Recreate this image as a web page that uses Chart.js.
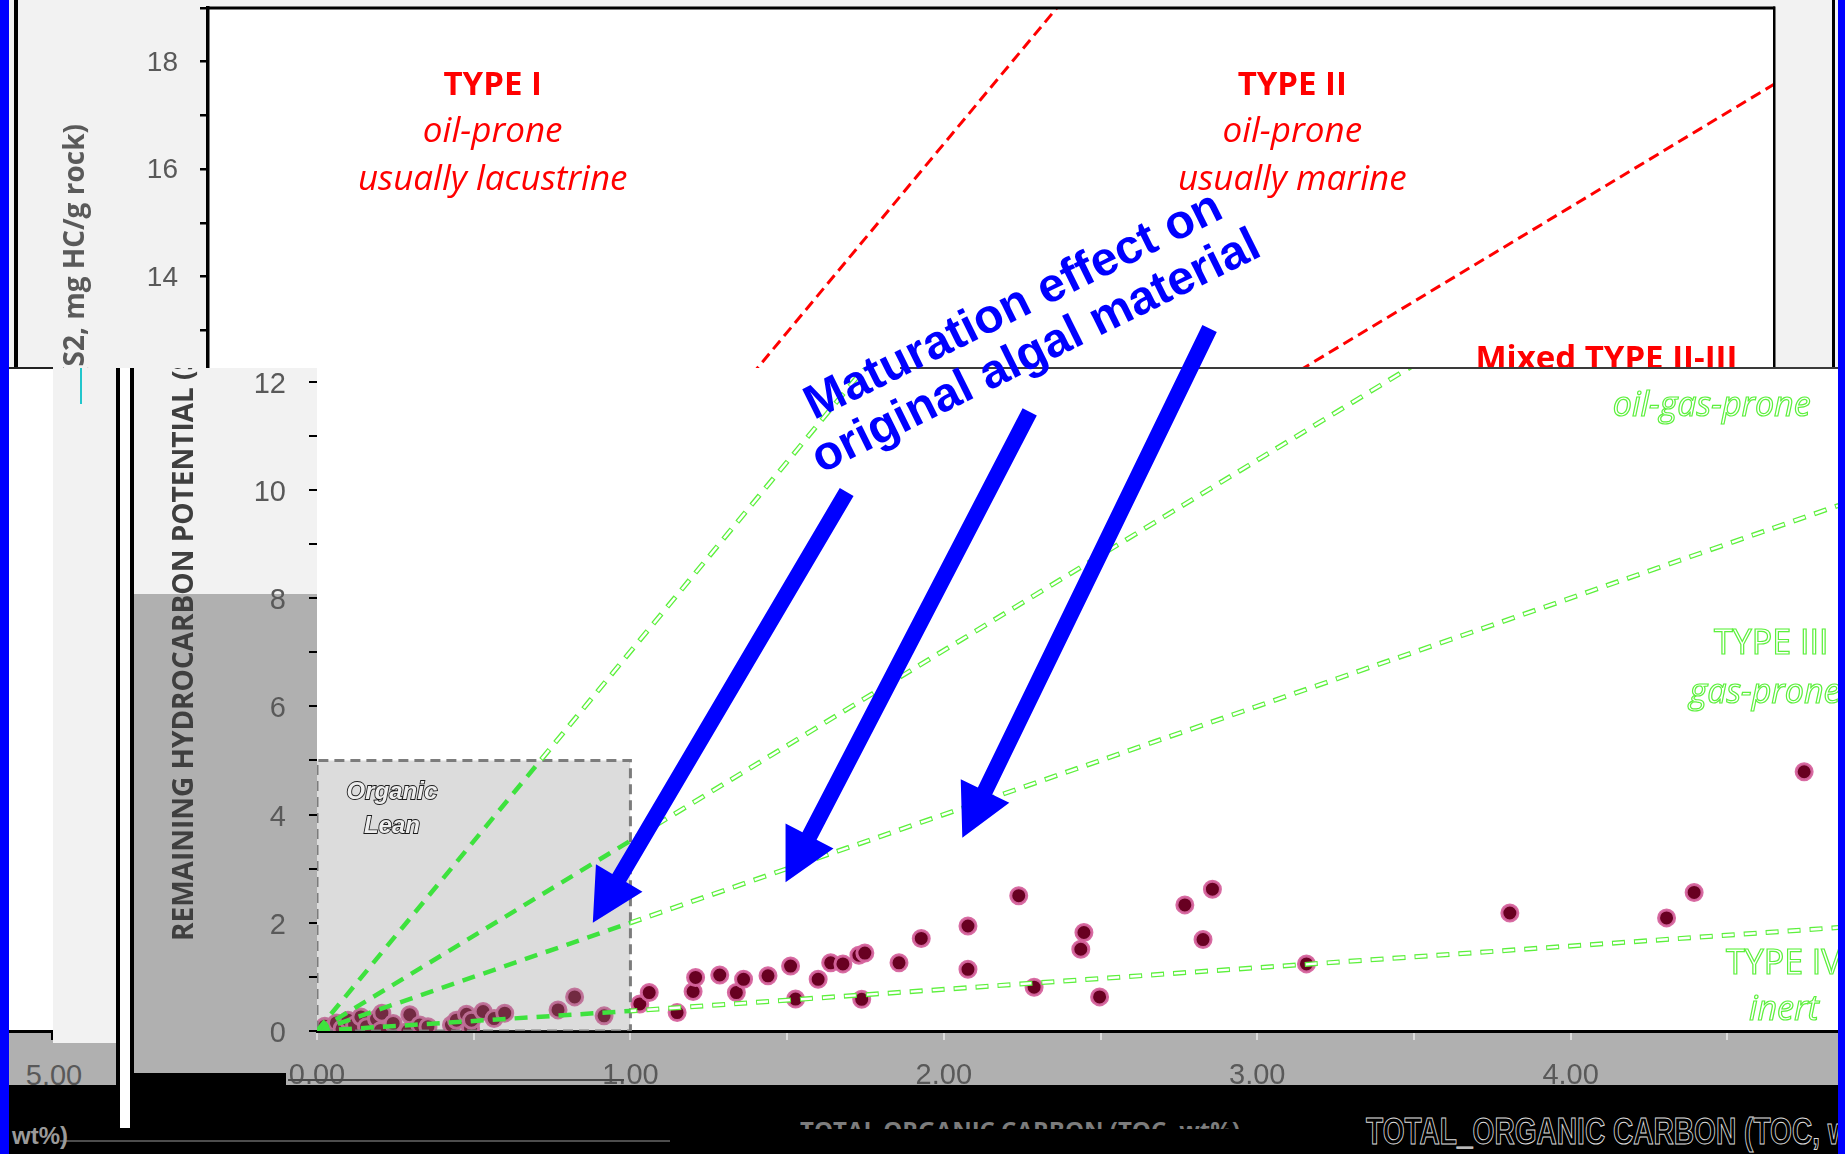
<!DOCTYPE html>
<html>
<head>
<meta charset="utf-8">
<title>Remaining hydrocarbon potential vs TOC</title>
<script src="https://cdn.jsdelivr.net/npm/chart.js@4.4.1/dist/chart.umd.min.js"></script>
<style>
  html, body { margin: 0; padding: 0; }
  body { width: 1845px; height: 1154px; position: relative; overflow: hidden; background: #f2f2f2; }
  .abs { position: absolute; }
  canvas { display: block; }
</style>
</head>
<body>
<canvas id="chartA" class="abs" width="1829" height="368" style="left:9px;top:0;"></canvas>

<div class="abs" style="left:9px;top:368px;width:44px;height:664px;background:#fff;"></div>
<div class="abs" style="left:9px;top:1032px;width:107px;height:53px;background:#b0b0b0;"></div>
<div class="abs" style="left:53px;top:368px;width:63px;height:675px;background:#f2f2f2;"></div>
<div class="abs" style="left:9px;top:1030px;width:44px;height:3px;background:#000;"></div>
<div class="abs" style="left:51px;top:1030px;width:2px;height:10px;background:#000;"></div>
<div class="abs" style="left:9px;top:367px;width:44px;height:2px;background:#222;"></div>
<div class="abs" style="left:80px;top:368px;width:2px;height:36px;background:#22c6cc;"></div>
<div class="abs" style="left:14px;top:1058px;width:80px;text-align:center;font:29px 'Liberation Sans',Arial,sans-serif;color:#595959;line-height:34px;">5.00</div>

<canvas id="chartB" class="abs" width="1704" height="717" style="left:134px;top:368px;"></canvas>
<div class="abs" style="left:900px;top:367px;width:938px;height:2px;background:#3a3a3a;"></div>

<!-- bottom band with the x-axis title -->
<div class="abs" style="left:9px;top:1085px;width:1829px;height:69px;background:#000;"></div>
<div class="abs" style="left:134px;top:1073px;width:152px;height:12px;background:#000;"></div>
<div class="abs" style="left:288px;top:1079px;width:336px;height:2px;background:#4a4a4a;"></div>
<div class="abs" style="left:60px;top:1140px;width:610px;height:2px;background:#4d4d4d;"></div>
<div class="abs" style="left:12px;top:1122px;font:bold 24px 'Liberation Sans',Arial,sans-serif;color:#9a9a9a;white-space:nowrap;">wt%)</div>
<div class="abs" style="left:800px;top:1117px;width:460px;height:12px;overflow:hidden;">
  <div style="font:bold 24px 'Open Sans',sans-serif;color:#7c7c7c;white-space:nowrap;line-height:26px;">TOTAL ORGANIC CARBON (TOC, wt%)</div>
</div>
<div class="abs" style="left:1366px;top:1112px;white-space:nowrap;font:bold 36px 'Liberation Sans',Arial,sans-serif;color:#000;-webkit-text-stroke:1px #dcdcdc;transform:scaleX(0.78);transform-origin:left top;line-height:40px;">TOTAL_ORGANIC CARBON (TOC, wt%)</div>

<!-- double frame line -->
<div class="abs" style="left:116px;top:368px;width:10px;height:760px;background:#fff;border-left:4px solid #000;border-right:4px solid #000;"></div>

<canvas id="notes" class="abs" width="1845" height="1154" style="left:0;top:0;pointer-events:none;"></canvas>

<div class="abs" style="left:0;top:0;width:9px;height:1154px;background:#0000ff;"></div>
<div class="abs" style="left:1838px;top:0;width:7px;height:1154px;background:#0000ff;"></div>

<script>
// ---- Rock-Eval samples ----
const tocWt = [
  0.01, 0.025, 0.05, 0.062, 0.08, 0.099, 0.12, 0.14, 0.158, 0.19, 0.203, 0.207, 0.243, 0.29,
  0.296, 0.328, 0.354, 0.429, 0.445, 0.477, 0.49, 0.493, 0.53, 0.565, 0.599, 0.769, 0.822, 0.916,
  1.03, 1.06, 1.149, 1.20, 1.208, 1.285, 1.338, 1.361, 1.439, 1.511, 1.527, 1.599, 1.639, 1.678,
  1.729, 1.748, 1.738, 1.857, 1.928, 2.077, 2.077, 2.239, 2.288, 2.437, 2.447, 2.497, 2.769, 2.827,
  2.857, 3.157, 3.806, 4.306, 4.394, 4.745
];
const s2Yield = [
  0.02, 0.09, 0.05, 0.15, 0.04, 0.20, 0.11, 0.26, 0.08, 0.22, 0.01, 0.33, 0.14, 0.0,
  0.30, 0.11, 0.08, 0.11, 0.20, 0.31, 0.05, 0.20, 0.36, 0.23, 0.33, 0.39, 0.63, 0.28,
  0.50, 0.71, 0.34, 0.73, 0.99, 1.035, 0.71, 0.955, 1.02, 1.20, 0.59, 0.955, 1.26, 1.24,
  1.40, 1.44, 0.585, 1.26, 1.71, 1.94, 1.14, 2.50, 0.81, 1.51, 1.82, 0.63, 2.33, 1.69,
  2.62, 1.24, 2.18, 2.09, 2.56, 4.79
];

// ---- kerogen type boundaries (TOC, S2 end points) ----
const typeI_II_toc = [0, 2.71];     const typeI_II_s2 = [0, 19];
const typeII_III_toc = [0, 5];      const typeII_III_s2 = [0, 17.58];
const typeIII_toc = [0, 5];         const typeIII_s2 = [0, 10];
const typeIV_toc = [0, 1, 5];       const typeIV_s2 = [0, 0.37, 1.97];

// organic-lean field
const leanTOC = [0, 1];
const leanS2 = [0, 5];

// axis labels
const upperYLabels = [14, 16, 18];
const lowerYLabels = [0, 2, 4, 6, 8, 10, 12];
const xLabels = [0, 1, 2, 3, 4];

// field labels, upper panel
const upperText = ['TYPE I', 'oil-prone', 'usually lacustrine', 'TYPE II', 'oil-prone', 'usually marine', 'Mixed TYPE II-III'];
const upperTextTOC = [0.909, 0.909, 0.909, 3.462, 3.462, 3.462, 4.465];
const upperTextS2 = [17.38, 16.50, 15.61, 17.38, 16.50, 15.61, 12.28];

// field labels, lower panel
const lowerText = ['oil-gas-prone', 'TYPE III', 'gas-prone', 'TYPE IV', 'inert'];
const lowerTextTOC = [4.45, 4.64, 4.62, 4.68, 4.68];
const lowerTextS2 = [11.55, 7.15, 6.24, 1.23, 0.38];

// maturation arrows (tail -> head) and caption
const arrowTailTOC = [1.690, 2.274, 2.848];
const arrowTailS2 = [9.96, 11.44, 12.98];
const arrowHeadTOC = [0.880, 1.495, 2.059];
const arrowHeadS2 = [2.00, 2.75, 3.57];
const captionLines = ['Maturation effect on', 'original algal material'];
const captionTOC = 2.278, captionS2 = 12.74;

const pts = (xs, ys) => xs.map((x, i) => ({ x, y: ys[i] }));
const TITLE = 'REMAINING HYDROCARBON POTENTIAL (S2, mg HC/g rock)';

// ================= upper panel =================
const panelA = {
  id: 'panelA',
  beforeDraw(chart) {
    const { ctx, chartArea: a, width, height } = chart;
    ctx.save();
    ctx.fillStyle = '#f2f2f2'; ctx.fillRect(0, 0, width, height);
    ctx.fillStyle = '#ffffff'; ctx.fillRect(a.left, a.top, a.width, a.height);
    ctx.fillStyle = '#000';
    ctx.fillRect(5, 0, 4, height);
    ctx.fillRect(1823, 0, 3, height);
    ctx.restore();
  },
  afterDatasetsDraw(chart) {
    const { ctx, scales: { x, y } } = chart;
    ctx.save();
    ctx.fillStyle = '#ff0000';
    ctx.textAlign = 'center';
    ctx.textBaseline = 'alphabetic';
    upperText.forEach((t, i) => {
      const bold = /TYPE/.test(t);
      ctx.font = bold ? 'bold 33px "Open Sans", sans-serif' : 'italic 35px "Open Sans", sans-serif';
      ctx.fillText(t, x.getPixelForValue(upperTextTOC[i]), y.getPixelForValue(upperTextS2[i]));
    });
    // y-axis title (its lower part sits under the lower panel)
    ctx.translate(67, 124);
    ctx.rotate(-Math.PI / 2);
    ctx.textAlign = 'right';
    ctx.textBaseline = 'middle';
    ctx.font = 'bold 28px "Open Sans", sans-serif';
    ctx.fillStyle = '#5a5a5a';
    ctx.fillText(TITLE, 0, 0);
    ctx.restore();
  },
  afterDraw(chart) {
    const { ctx, chartArea: a } = chart;
    ctx.save();
    ctx.fillStyle = '#000';
    ctx.fillRect(a.left - 1.5, a.top - 1.5, a.width + 2.5, 3);
    ctx.fillRect(a.right - 1, a.top - 1.5, 2.5, a.height + 2);
    ctx.restore();
  }
};

const chartA = new Chart(document.getElementById('chartA'), {
  type: 'scatter',
  data: {
    datasets: [
      { type: 'line', data: pts(typeI_II_toc, typeI_II_s2), borderColor: '#ff0000', borderWidth: 3, borderDash: [11, 6], pointRadius: 0, fill: false },
      { type: 'line', data: pts(typeII_III_toc, typeII_III_s2), borderColor: '#ff0000', borderWidth: 3, borderDash: [11, 6], pointRadius: 0, fill: false }
    ]
  },
  options: {
    responsive: false, animation: false, events: [],
    layout: { autoPadding: false, padding: { top: 8, right: 64, bottom: 0, left: 0 } },
    plugins: { legend: { display: false }, tooltip: { enabled: false } },
    scales: {
      x: { type: 'linear', min: 0, max: 5, display: false },
      y: {
        type: 'linear', min: 12.3, max: 19,
        afterFit: s => { s.width = 199; s.paddingTop = 0; s.paddingBottom = 0; },
        ticks: {
          stepSize: 1, includeBounds: false, padding: 22, labelOffset: 1.5, color: '#595959',
          font: { family: '"Liberation Sans", Arial, sans-serif', size: 28 },
          callback: v => upperYLabels.includes(v) ? String(v) : ''
        },
        grid: { drawOnChartArea: false, drawTicks: true, tickLength: 8, color: '#000', lineWidth: 2.5 },
        border: { display: true, color: '#000', width: 3.5 }
      }
    }
  },
  plugins: [panelA]
});

// ================= lower panel =================
function leanBoxPx(chart) {
  const { x, y } = chart.scales;
  const l = x.getPixelForValue(leanTOC[0]), r = x.getPixelForValue(leanTOC[1]);
  const t = y.getPixelForValue(leanS2[1]), b = y.getPixelForValue(leanS2[0]);
  return { l, r, t, b };
}

const panelB = {
  id: 'panelB',
  beforeDraw(chart) {
    const { ctx, chartArea: a, width, height } = chart;
    ctx.save();
    ctx.fillStyle = '#b0b0b0'; ctx.fillRect(0, 0, width, height);
    ctx.fillStyle = '#f2f2f2'; ctx.fillRect(0, 0, a.left, 226);
    ctx.fillStyle = '#ffffff'; ctx.fillRect(a.left, a.top, a.width, a.height);
    ctx.restore();
  },
  beforeDatasetDraw(chart, args) {
    const ds = chart.data.datasets[args.index];
    if (!ds.region) return;
    const { ctx, chartArea: a } = chart;
    const bx = leanBoxPx(chart);
    ctx.save();
    ctx.beginPath();
    if (ds.region === 'inside') {
      ctx.rect(bx.l - 4, bx.t, bx.r - bx.l + 4, bx.b - bx.t + 4);
      ctx.clip();
    } else {
      ctx.rect(a.left, a.top, a.width, a.height);
      ctx.rect(bx.l, bx.t, bx.r - bx.l, bx.b - bx.t);
      ctx.clip('evenodd');
    }
  },
  afterDatasetDraw(chart, args) {
    if (chart.data.datasets[args.index].region) chart.ctx.restore();
  },
  afterDatasetsDraw(chart) {
    const { ctx, scales: { x, y } } = chart;
    ctx.save();
    // organic lean caption
    ctx.textAlign = 'center';
    ctx.textBaseline = 'middle';
    ctx.font = 'italic bold 24px "Liberation Sans", Arial, sans-serif';
    ctx.lineWidth = 1.8;
    ctx.strokeStyle = '#1c1c1c';
    ctx.fillStyle = '#eeeeee';
    [['Organic', 4.40], ['Lean', 3.79]].forEach(([t, s2]) => {
      const px = x.getPixelForValue(0.239), py = y.getPixelForValue(s2);
      ctx.strokeText(t, px, py);
      ctx.fillText(t, px, py);
    });
    // outlined field labels
    ctx.lineWidth = 1.2;
    ctx.strokeStyle = '#5cf03c';
    lowerText.forEach((t, i) => {
      ctx.font = /TYPE/.test(t) ? '34px "Open Sans", sans-serif' : 'italic 34px "Open Sans", sans-serif';
      ctx.strokeText(t, x.getPixelForValue(lowerTextTOC[i]), y.getPixelForValue(lowerTextS2[i]));
    });
    // y-axis title
    ctx.translate(51, 573);
    ctx.rotate(-Math.PI / 2);
    ctx.textAlign = 'left';
    ctx.font = 'bold 28px "Open Sans", sans-serif';
    ctx.fillStyle = '#3f3f3f';
    ctx.fillText(TITLE, 0, 0);
    ctx.restore();
  }
};

const boundaries = [
  [typeI_II_toc, typeI_II_s2],
  [typeII_III_toc, typeII_III_s2],
  [typeIII_toc, typeIII_s2],
  [typeIV_toc, typeIV_s2]
];

const lowerSets = [
  {
    type: 'scatter', data: pts(tocWt, s2Yield), order: 5,
    pointRadius: 8, pointBorderWidth: 3,
    pointBackgroundColor: '#680021', pointBorderColor: 'rgba(214,100,158,0.95)'
  },
  {
    type: 'line', order: 4, pointRadius: 0, borderWidth: 0, fill: 'origin',
    backgroundColor: 'rgba(140,140,140,0.30)',
    data: pts(leanTOC, [leanS2[1], leanS2[1]])
  },
  {
    type: 'line', order: 3, pointRadius: 0, fill: false,
    borderColor: '#7c7c7c', borderWidth: 3, borderDash: [10, 6],
    data: pts([leanTOC[0], leanTOC[0], leanTOC[1], leanTOC[1], leanTOC[0]],
              [leanS2[0], leanS2[1], leanS2[1], leanS2[0], leanS2[0]])
  }
];
boundaries.forEach(([xs, ys]) => {
  lowerSets.push({ type: 'line', data: pts(xs, ys), region: 'outside', order: 2, pointRadius: 0, fill: false,
    borderColor: '#5cf03c', borderWidth: 5, borderDash: [13, 9], borderCapStyle: 'butt' });
  lowerSets.push({ type: 'line', data: pts(xs, ys), region: 'outside', order: 1, pointRadius: 0, fill: false,
    borderColor: '#ffffff', borderWidth: 2.4, borderDash: [11, 11], borderDashOffset: -1, borderCapStyle: 'butt' });
  lowerSets.push({ type: 'line', data: pts(xs, ys), region: 'inside', order: 0, pointRadius: 0, fill: false,
    borderColor: '#3ee23e', borderWidth: 4.5, borderDash: [13, 9], borderCapStyle: 'butt' });
});

const chartB = new Chart(document.getElementById('chartB'), {
  type: 'scatter',
  data: { datasets: lowerSets },
  options: {
    responsive: false, animation: false, events: [],
    layout: { autoPadding: false, padding: 0 },
    plugins: { legend: { display: false }, tooltip: { enabled: false } },
    scales: {
      x: {
        type: 'linear', min: 0, max: 4.853,
        afterFit: s => { s.height = 54; s.paddingLeft = 0; s.paddingRight = 0; s.paddingTop = 0; s.paddingBottom = 0; },
        ticks: {
          stepSize: 0.5, includeBounds: false, padding: 19, maxRotation: 0, autoSkip: false, color: '#595959',
          font: { family: '"Liberation Sans", Arial, sans-serif', size: 29 },
          callback: v => xLabels.includes(v) ? v.toFixed(2) : ''
        },
        grid: { drawOnChartArea: false, drawTicks: true, tickLength: 9, color: '#dadada', lineWidth: 2 },
        border: { display: true, color: '#000', width: 3 }
      },
      y: {
        type: 'linear', min: 0, max: 12.25,
        afterFit: s => { s.width = 183; s.paddingTop = 0; s.paddingBottom = 0; },
        ticks: {
          stepSize: 1, includeBounds: false, padding: 23, labelOffset: 3, autoSkip: false, color: '#595959',
          font: { family: '"Liberation Sans", Arial, sans-serif', size: 29 },
          callback: v => lowerYLabels.includes(v) ? String(v) : ''
        },
        grid: { drawOnChartArea: false, drawTicks: true, tickLength: 8, color: '#000', lineWidth: 2 },
        border: { display: false }
      }
    }
  },
  plugins: [panelB]
});

// ================= arrows and caption =================
(function drawNotes() {
  const cv = document.getElementById('notes');
  const ctx = cv.getContext('2d');
  const offX = 134, offY = 368;
  const px = v => offX + chartB.scales.x.getPixelForValue(v);
  const py = v => offY + chartB.scales.y.getPixelForValue(v);
  ctx.fillStyle = '#0000ff';
  const shaft = 8, headLen = 52, headHalf = 27;
  arrowTailTOC.forEach((_, i) => {
    const x0 = px(arrowTailTOC[i]), y0 = py(arrowTailS2[i]);
    const x1 = px(arrowHeadTOC[i]), y1 = py(arrowHeadS2[i]);
    const len = Math.hypot(x1 - x0, y1 - y0);
    const ux = (x1 - x0) / len, uy = (y1 - y0) / len;
    const nx = -uy, ny = ux;
    const bx = x1 - ux * headLen, by = y1 - uy * headLen;
    ctx.beginPath();
    ctx.moveTo(x0 + nx * shaft, y0 + ny * shaft);
    ctx.lineTo(bx + nx * shaft, by + ny * shaft);
    ctx.lineTo(bx + nx * headHalf, by + ny * headHalf);
    ctx.lineTo(x1, y1);
    ctx.lineTo(bx - nx * headHalf, by - ny * headHalf);
    ctx.lineTo(bx - nx * shaft, by - ny * shaft);
    ctx.lineTo(x0 - nx * shaft, y0 - ny * shaft);
    ctx.closePath();
    ctx.fill();
  });
  ctx.save();
  ctx.translate(px(captionTOC), py(captionS2));
  ctx.rotate(-26.3 * Math.PI / 180);
  ctx.font = 'bold 48px "Liberation Sans", Arial, sans-serif';
  ctx.textAlign = 'center';
  ctx.textBaseline = 'alphabetic';
  ctx.fillText(captionLines[0], 0, -25.5);
  ctx.fillText(captionLines[1], 0, 25.5);
  ctx.restore();
})();
</script>
</body>
</html>
